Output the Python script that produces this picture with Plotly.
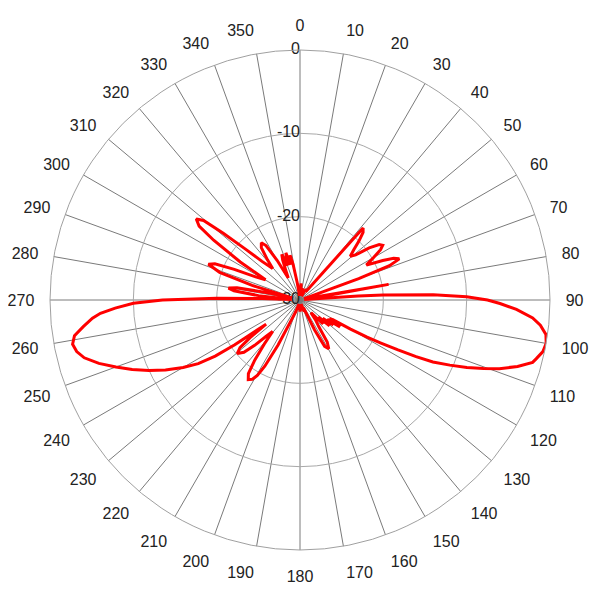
import plotly.graph_objects as go

# Pattern angles (degrees, clockwise from north) and gain (dB)
theta = [0, 4, 7, 11, 15, 19, 23, 27, 31, 34, 36, 38.5, 41.2, 43, 45, 47, 49, 51, 53, 55, 56.5, 58,
         60, 62.3, 64.5, 66, 67.5, 69, 70, 71, 73, 76, 78.5, 80, 81.5, 83, 84.5, 86, 86.6, 87.7,
         88.9, 90, 91, 92.5, 94.4, 96, 98, 100, 102, 104, 105, 107, 109, 110.5, 112, 113.5, 115,
         116, 117, 118, 119, 120, 121, 122.5, 124, 125.5, 127, 129, 131, 133, 136, 139, 142, 145,
         147, 149.5, 152, 154, 156, 160, 165, 170, 175, 180, 185, 190, 195, 200, 203, 206, 208,
         209.5, 211, 213, 215, 217, 219, 221, 223, 225, 227, 229.5, 231.5, 233, 234.5, 235.5,
         236.5, 238, 240, 242.5, 245, 247.5, 250, 252.5, 255, 257, 259, 261, 263, 265, 266.2,
         267.5, 268.9, 270, 271.2, 272.3, 273.5, 276, 278, 279.5, 281, 283, 285, 287, 289, 291.3,
         293, 295, 297.5, 300.5, 302.5, 304.7, 306.2, 308, 309.5, 311, 313, 315.5, 319, 321,
         323.5, 326, 328, 330, 332, 334.5, 336.5, 338.2, 340.3, 341.8, 343.3, 345, 346.2, 347.5,
         349, 351, 354, 357, 360]
gain_db = [-29.0, -28.0, -29.5, -28.5, -29.5, -28.6, -29.5, -28.8, -28.5, -28.8, -28.5, -27.5,
           -18.5, -18.9, -20.0, -21.2, -22.0, -21.4, -19.6, -18.4, -18.1, -18.6,
           -19.8, -21.0, -19.0, -17.7, -17.1, -18.5, -22.5, -28.5, -29.5, -28.8, -29.0, -19.2,
           -28.0, -29.0, -29.5, -23.0, -20.0, -14.0,
           -10.0, -7.5, -6.0, -4.0, -2.0, -1.0, -0.2, 0.0, -0.2, -0.8, -1.1, -2.7, -4.7, -6.5,
           -8.4, -10.4, -12.4,
           -14.5, -16.8, -19.0, -20.8, -23.0, -25.4, -25.8, -24.2, -26.0, -25.0, -26.5, -25.3,
           -27.0, -26.0, -28.0, -27.0, -26.0,
           -24.0, -23.2, -23.7, -26.0, -29.0, -28.5, -29.5, -28.7, -29.5, -28.6, -29.5, -28.8,
           -29.5, -28.5, -27.5, -24.0, -21.0,
           -19.6, -18.9, -18.6, -19.2, -21.0, -23.2, -25.0, -24.0, -22.3, -20.8, -20.1, -20.8,
           -22.5, -25.0, -20.5,
           -17.8, -15.6, -13.8, -11.8, -10.0, -8.2, -6.5, -4.7, -3.2, -2.5, -2.2, -2.6, -3.8,
           -5.0, -6.0,
           -7.8, -10.0, -13.5, -20.0, -25.5, -29.0, -25.0, -22.0, -21.3, -22.3, -26.5, -29.0,
           -24.0, -19.8, -18.2,
           -18.9, -21.3, -24.0, -25.2, -21.5, -17.4, -15.0, -14.2, -15.0, -17.8, -21.0, -23.5,
           -25.0, -23.8,
           -22.2, -21.7, -22.3, -24.5, -27.0, -26.0, -24.8, -24.1, -25.6, -24.8, -24.1, -25.6,
           -25.0, -24.5,
           -25.6, -28.0, -29.5, -28.5, -29.0]

radial_ticks = [-30, -20, -10, 0]
radial_labels = ["-30", "-20", "-10", "0"]
angle_ticks = list(range(0, 360, 10))
angle_labels = [str(a) for a in angle_ticks]

font_family = "Liberation Sans, Arial, sans-serif"

fig = go.Figure()
fig.add_trace(go.Scatterpolar(
    r=radial_ticks, theta=[0] * len(radial_ticks), mode="text", text=radial_labels,
    textposition="middle left", cliponaxis=False,
    textfont=dict(size=16, color="#222222", family=font_family),
    showlegend=False, hoverinfo="skip"))
fig.add_trace(go.Scatterpolar(
    r=gain_db, theta=theta, mode="lines",
    line=dict(color="#ff0000", width=3), showlegend=False))

# page body has an 8px margin, so the figure is 592 wide/high and shifted margins
fig.update_layout(
    width=592, height=592, autosize=False,
    margin=dict(l=42, r=50, t=42, b=50),
    paper_bgcolor="white",
    font=dict(family=font_family, size=16, color="#222222"),
    polar=dict(
        domain=dict(x=[0, 1], y=[0, 1]),
        bgcolor="white",
        radialaxis=dict(range=[-30, 0], tickvals=radial_ticks, showticklabels=False,
                        showline=False, ticks="", gridcolor="#a8a8a8", gridwidth=1),
        angularaxis=dict(rotation=90, direction="clockwise", tickvals=angle_ticks,
                         ticktext=angle_labels, showline=True, linecolor="#a0a0a0",
                         linewidth=1, gridcolor="#7a7a7a", gridwidth=1,
                         ticks="outside", ticklen=12, tickcolor="rgba(0,0,0,0)",
                         tickfont=dict(size=16, color="#222222", family=font_family)),
    ),
)
fig.write_html("out.html")
